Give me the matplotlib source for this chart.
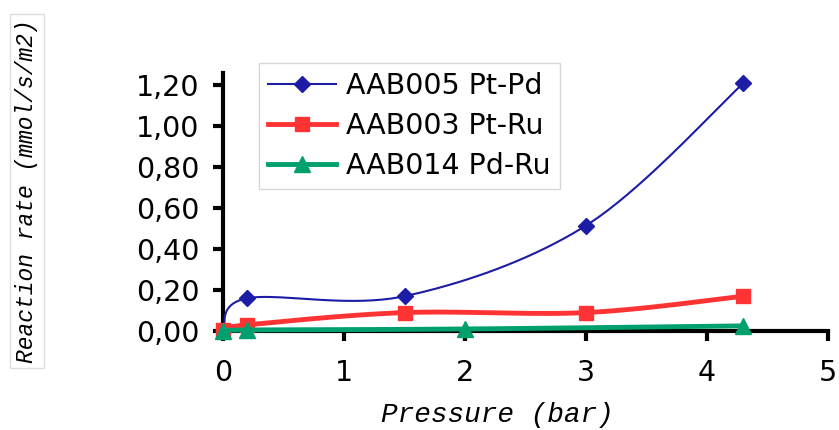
import numpy as np
import matplotlib
matplotlib.use("Agg")
import matplotlib.pyplot as plt

# data (pressure in bar, rate in mmol/s/m2)
p_ptpd = [0.0, 0.2, 1.5, 3.0, 4.3]
r_ptpd = [0.0, 0.16, 0.17, 0.515, 1.21]
p_ptru = [0.0, 0.2, 1.5, 3.0, 4.3]
r_ptru = [0.005, 0.03, 0.09, 0.09, 0.17]
p_pdru = [0.0, 0.2, 2.0, 4.3]
r_pdru = [0.0, 0.005, 0.01, 0.025]
labels = ["AAB005 Pt-Pd", "AAB003 Pt-Ru", "AAB014 Pd-Ru"]
xticks = [0, 1, 2, 3, 4, 5]
yticks = [0.0, 0.2, 0.4, 0.6, 0.8, 1.0, 1.2]


def smooth(xs, ys, n=40):
    # excel-like smoothed line: catmull-rom bezier through the points
    pts = np.column_stack([xs, ys]).astype(float)
    ext = np.vstack([pts[0], pts, pts[-1]])
    t = np.linspace(0, 1, n)[:, None]
    out = []
    for i in range(1, len(ext) - 2):
        p0, p1 = ext[i], ext[i + 1]
        c1 = p0 + (ext[i + 1] - ext[i - 1]) / 6
        c2 = p1 - (ext[i + 2] - ext[i]) / 6
        seg = ((1 - t) ** 3) * p0 + 3 * ((1 - t) ** 2) * t * c1 + 3 * (1 - t) * t ** 2 * c2 + t ** 3 * p1
        out.append(seg)
    out = np.vstack(out)
    return out[:, 0], out[:, 1]


fig = plt.figure(figsize=(8.39, 4.30), dpi=100)
ax = fig.add_axes([0.2658, 0.2302, 0.7211, 0.6])

series = [
    (p_ptpd, r_ptpd, "#1c1ca6", 1.5, "D", 8, 3),
    (p_ptru, r_ptru, "#ff3333", 3.5, "s", 9.5, 3),
    (p_pdru, r_pdru, "#00a06e", 3.5, "^", 11, 4),
]
handles = []
for (xs, ys, col, lw, mk, ms, z), lab in zip(series, labels):
    sx, sy = smooth(xs, ys)
    ax.plot(sx, sy, color=col, lw=lw, clip_on=False, zorder=z)
    ax.plot(xs, ys, ls="none", marker=mk, ms=ms, color=col, clip_on=False, zorder=z + 0.5)
    h, = ax.plot([], [], color=col, lw=lw, marker=mk, ms=ms, label=lab)
    handles.append(h)

ax.set_xlim(0, 5)
ax.set_ylim(0, 1.26)
ax.set_xticks(xticks)
ax.set_xticklabels([str(v) for v in xticks])
ax.set_yticks(yticks)
ax.set_yticklabels([f"{v:.2f}".replace(".", ",") for v in yticks])
for s in ["top", "right"]:
    ax.spines[s].set_visible(False)
for s in ["left", "bottom"]:
    ax.spines[s].set_linewidth(3)
ax.tick_params(width=3, length=7, labelsize=20.5, colors="black")
ax.tick_params(axis="y", pad=10)
ax.tick_params(axis="x", pad=13)

leg = ax.legend(handles=handles, loc="upper left", bbox_to_anchor=(259 / 839, 1 - 63 / 430),
                bbox_transform=fig.transFigure, fontsize=20.5, frameon=True, fancybox=False,
                handlelength=2.4, labelspacing=0.42, borderpad=0.32, handletextpad=0.35,
                borderaxespad=0)
leg.get_frame().set_edgecolor("#cccccc")
leg.get_frame().set_linewidth(1)

fig.text(381 / 839, 1 - 415 / 430, "Pressure (bar)", family="Liberation Mono", style="italic",
         fontsize=20, ha="left", va="center")
fig.text(27 / 839, 1 - 191 / 430, "Reaction rate (mmol/s/m2)", family="Liberation Mono",
         style="italic", fontsize=16.5, rotation=90, ha="center", va="center",
         bbox=dict(facecolor="white", edgecolor="#dddddd", linewidth=1, pad=4))

fig.savefig("out.png", dpi=100)
